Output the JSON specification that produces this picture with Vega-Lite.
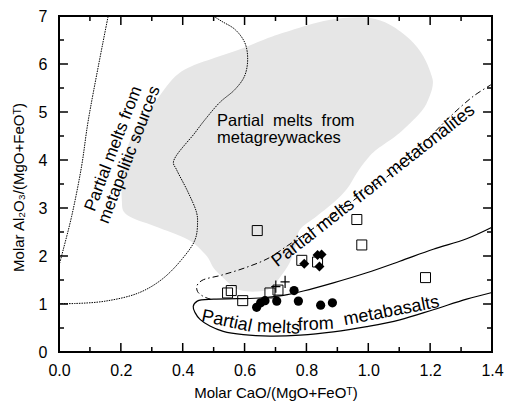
{
  "$schema": "https://vega.github.io/schema/vega-lite/v6.json",
  "width": 433,
  "height": 336,
  "autosize": "none",
  "padding": {"left": 59, "top": 16, "right": 13, "bottom": 49},
  "background": "white",
  "config": {
    "font": "Liberation Sans",
    "view": {"stroke": "black", "strokeWidth": 2},
    "axis": {"grid": false, "domain": false, "ticks": false, "labelColor": "black", "titleColor": "black", "labelFont": "Liberation Sans", "titleFont": "Liberation Sans", "labelFontSize": 16, "titleFontSize": 15, "titleFontWeight": "normal", "labelFlush": false, "labelOverlap": false, "labelBound": false}
  },
  "datasets": {
    "grey": [
      {"i": 1, "x": 0.203, "y": 3.18}, {"i": 2, "x": 0.208, "y": 3.87}, {"i": 3, "x": 0.236, "y": 4.5}, {"i": 4, "x": 0.3, "y": 5.1},
      {"i": 5, "x": 0.364, "y": 5.66}, {"i": 6, "x": 0.418, "y": 5.92}, {"i": 7, "x": 0.504, "y": 6.13}, {"i": 8, "x": 0.59, "y": 6.32},
      {"i": 9, "x": 0.66, "y": 6.5}, {"i": 10, "x": 0.725, "y": 6.65}, {"i": 11, "x": 0.833, "y": 6.86}, {"i": 12, "x": 0.919, "y": 6.96},
      {"i": 13, "x": 1.005, "y": 6.96}, {"i": 14, "x": 1.07, "y": 6.82}, {"i": 15, "x": 1.135, "y": 6.51}, {"i": 16, "x": 1.178, "y": 6.16},
      {"i": 17, "x": 1.205, "y": 5.75}, {"i": 18, "x": 1.208, "y": 5.54}, {"i": 19, "x": 1.194, "y": 5.26}, {"i": 20, "x": 1.17, "y": 5.0},
      {"i": 21, "x": 1.102, "y": 4.57}, {"i": 22, "x": 1.027, "y": 4.22}, {"i": 23, "x": 0.995, "y": 4.01}, {"i": 24, "x": 0.963, "y": 3.73},
      {"i": 25, "x": 0.93, "y": 3.39}, {"i": 26, "x": 0.887, "y": 3.11}, {"i": 27, "x": 0.833, "y": 2.83}, {"i": 28, "x": 0.779, "y": 2.55},
      {"i": 29, "x": 0.765, "y": 2.2}, {"i": 30, "x": 0.745, "y": 1.85}, {"i": 31, "x": 0.714, "y": 1.55}, {"i": 32, "x": 0.685, "y": 1.33},
      {"i": 33, "x": 0.64, "y": 1.26}, {"i": 34, "x": 0.59, "y": 1.28}, {"i": 35, "x": 0.56, "y": 1.38}, {"i": 36, "x": 0.53, "y": 1.55},
      {"i": 37, "x": 0.5, "y": 1.75}, {"i": 38, "x": 0.475, "y": 2.02}, {"i": 39, "x": 0.418, "y": 2.34}, {"i": 40, "x": 0.31, "y": 2.62},
      {"i": 41, "x": 0.219, "y": 2.86}
    ],
    "pelitic": [
      {"i": 1, "x": 0.0, "y": 1.8}, {"i": 2, "x": 0.014, "y": 2.14}, {"i": 3, "x": 0.041, "y": 2.83}, {"i": 4, "x": 0.073, "y": 3.87},
      {"i": 5, "x": 0.095, "y": 4.84}, {"i": 6, "x": 0.159, "y": 7.0}
    ],
    "dotted2": [
      {"i": 1, "x": 0.0, "y": 1.01}, {"i": 2, "x": 0.05, "y": 1.01}, {"i": 3, "x": 0.15, "y": 1.06}, {"i": 4, "x": 0.257, "y": 1.23},
      {"i": 5, "x": 0.332, "y": 1.51}, {"i": 6, "x": 0.397, "y": 1.93}, {"i": 7, "x": 0.44, "y": 2.34}, {"i": 8, "x": 0.448, "y": 2.69},
      {"i": 9, "x": 0.445, "y": 2.9}, {"i": 10, "x": 0.418, "y": 3.32}, {"i": 11, "x": 0.38, "y": 3.8}, {"i": 12, "x": 0.37, "y": 3.96},
      {"i": 13, "x": 0.44, "y": 4.57}, {"i": 14, "x": 0.472, "y": 4.84}, {"i": 15, "x": 0.52, "y": 5.2}, {"i": 16, "x": 0.569, "y": 5.47},
      {"i": 17, "x": 0.6, "y": 5.75}, {"i": 18, "x": 0.61, "y": 6.1}, {"i": 19, "x": 0.601, "y": 6.44}, {"i": 20, "x": 0.569, "y": 6.72},
      {"i": 21, "x": 0.526, "y": 6.89}, {"i": 22, "x": 0.499, "y": 7.0}
    ],
    "tonalite": [
      {"i": 1, "x": 1.4, "y": 5.58}, {"i": 2, "x": 1.34, "y": 5.33}, {"i": 3, "x": 1.264, "y": 4.9}, {"i": 4, "x": 1.21, "y": 4.55},
      {"i": 5, "x": 1.157, "y": 4.17}, {"i": 6, "x": 1.1, "y": 3.86}, {"i": 7, "x": 1.05, "y": 3.6}, {"i": 8, "x": 0.995, "y": 3.37},
      {"i": 9, "x": 0.94, "y": 3.1}, {"i": 10, "x": 0.887, "y": 2.88}, {"i": 11, "x": 0.81, "y": 2.52}, {"i": 12, "x": 0.74, "y": 2.22},
      {"i": 13, "x": 0.676, "y": 1.95}, {"i": 14, "x": 0.6, "y": 1.75}, {"i": 15, "x": 0.525, "y": 1.6}, {"i": 16, "x": 0.462, "y": 1.49},
      {"i": 17, "x": 0.446, "y": 1.38}, {"i": 18, "x": 0.448, "y": 1.26}, {"i": 19, "x": 0.466, "y": 1.16}, {"i": 20, "x": 0.49, "y": 1.1}
    ],
    "basalt": [
      {"i": 1, "x": 1.4, "y": 2.6}, {"i": 2, "x": 1.318, "y": 2.36}, {"i": 3, "x": 1.21, "y": 2.14}, {"i": 4, "x": 1.102, "y": 1.89},
      {"i": 5, "x": 0.995, "y": 1.65}, {"i": 6, "x": 0.887, "y": 1.44}, {"i": 7, "x": 0.79, "y": 1.27}, {"i": 8, "x": 0.726, "y": 1.18},
      {"i": 9, "x": 0.66, "y": 1.13}, {"i": 10, "x": 0.575, "y": 1.11}, {"i": 11, "x": 0.5, "y": 1.1}, {"i": 12, "x": 0.447, "y": 1.06},
      {"i": 13, "x": 0.434, "y": 0.95}, {"i": 14, "x": 0.44, "y": 0.82}, {"i": 15, "x": 0.456, "y": 0.68}, {"i": 16, "x": 0.488, "y": 0.54},
      {"i": 17, "x": 0.531, "y": 0.43}, {"i": 18, "x": 0.596, "y": 0.36}, {"i": 19, "x": 0.682, "y": 0.33}, {"i": 20, "x": 0.78, "y": 0.35},
      {"i": 21, "x": 0.887, "y": 0.42}, {"i": 22, "x": 0.995, "y": 0.53}, {"i": 23, "x": 1.102, "y": 0.67}, {"i": 24, "x": 1.21, "y": 0.88},
      {"i": 25, "x": 1.318, "y": 1.1}, {"i": 26, "x": 1.4, "y": 1.24}
    ],
    "squares": [
      {"x": 0.641, "y": 2.53}, {"x": 0.963, "y": 2.76}, {"x": 0.979, "y": 2.23}, {"x": 1.185, "y": 1.55}, {"x": 0.785, "y": 1.91},
      {"x": 0.836, "y": 1.875}, {"x": 0.545, "y": 1.23}, {"x": 0.557, "y": 1.28}, {"x": 0.594, "y": 1.07}, {"x": 0.682, "y": 1.23}, {"x": 0.708, "y": 1.29}
    ],
    "circles": [
      {"x": 0.639, "y": 0.93}, {"x": 0.652, "y": 1.025}, {"x": 0.666, "y": 1.07}, {"x": 0.704, "y": 1.06}, {"x": 0.76, "y": 1.28},
      {"x": 0.774, "y": 1.06}, {"x": 0.846, "y": 0.975}, {"x": 0.884, "y": 1.025}
    ],
    "diamonds": [
      {"x": 0.793, "y": 1.84}, {"x": 0.836, "y": 2.02}, {"x": 0.849, "y": 2.03}, {"x": 0.842, "y": 1.78}
    ],
    "crosses": [
      {"x": 0.701, "y": 1.36}, {"x": 0.731, "y": 1.46}
    ],
    "xmajorB": [{"v": 0.2}, {"v": 0.4}, {"v": 0.6}, {"v": 0.8}, {"v": 1.0}, {"v": 1.2}],
    "xmajorT": [{"t": 0.2}, {"t": 0.4}, {"t": 0.6}, {"t": 0.8}, {"t": 1.0}, {"t": 1.2}],
    "xminorB": [{"m": 0.1}, {"m": 0.3}, {"m": 0.5}, {"m": 0.7}, {"m": 0.9}, {"m": 1.1}, {"m": 1.3}],
    "xminorT": [{"n": 0.1}, {"n": 0.3}, {"n": 0.5}, {"n": 0.7}, {"n": 0.9}, {"n": 1.1}, {"n": 1.3}],
    "ymajorL": [{"a": 1}, {"a": 2}, {"a": 3}, {"a": 4}, {"a": 5}, {"a": 6}],
    "ymajorR": [{"b": 1}, {"b": 2}, {"b": 3}, {"b": 4}, {"b": 5}, {"b": 6}],
    "yminorL": [{"c": 0.5}, {"c": 1.5}, {"c": 2.5}, {"c": 3.5}, {"c": 4.5}, {"c": 5.5}, {"c": 6.5}],
    "yminorR": [{"d": 0.5}, {"d": 1.5}, {"d": 2.5}, {"d": 3.5}, {"d": 4.5}, {"d": 5.5}, {"d": 6.5}]
  },
  "layer": [
    {
      "data": {"name": "grey"},
      "mark": {"type": "line", "fill": "#e6e6e6", "stroke": "transparent", "interpolate": "cardinal-closed"},
      "encoding": {
        "order": {"field": "i", "type": "quantitative"},
        "x": {"field": "x", "type": "quantitative", "scale": {"domain": [0, 1.4], "nice": false, "zero": false},
          "axis": {"orient": "bottom", "values": [0, 0.2, 0.4, 0.6, 0.8, 1.0, 1.2, 1.4], "format": ".1f", "labelPadding": 10,
            "title": "Molar CaO/(MgO+FeOᵀ)", "titleY": 40, "titleBaseline": "middle"}},
        "y": {"field": "y", "type": "quantitative", "scale": {"domain": [0, 7], "nice": false, "zero": false},
          "axis": {"orient": "left", "values": [0, 1, 2, 3, 4, 5, 6, 7], "format": "d", "labelPadding": 12,
            "title": "Molar Al₂O₃/(MgO+FeOᵀ)", "titleX": -41, "titleY": 171, "titleBaseline": "middle", "titleAngle": -90}}
      }
    },
    {
      "data": {"name": "xmajorB"},
      "mark": {"type": "rule", "color": "black", "strokeWidth": 1.5},
      "encoding": {"x": {"field": "v", "type": "quantitative"}, "y": {"datum": 0}, "y2": {"datum": 0.1875}}
    },
    {
      "data": {"name": "xmajorT"},
      "mark": {"type": "rule", "color": "black", "strokeWidth": 1.5},
      "encoding": {"x": {"field": "t", "type": "quantitative"}, "y": {"datum": 7}, "y2": {"datum": 6.8125}}
    },
    {
      "data": {"name": "xminorB"},
      "mark": {"type": "rule", "color": "black", "strokeWidth": 1.5},
      "encoding": {"x": {"field": "m", "type": "quantitative"}, "y": {"datum": 0}, "y2": {"datum": 0.104}}
    },
    {
      "data": {"name": "xminorT"},
      "mark": {"type": "rule", "color": "black", "strokeWidth": 1.5},
      "encoding": {"x": {"field": "n", "type": "quantitative"}, "y": {"datum": 7}, "y2": {"datum": 6.896}}
    },
    {
      "data": {"name": "ymajorL"},
      "mark": {"type": "rule", "color": "black", "strokeWidth": 1.5},
      "encoding": {"y": {"field": "a", "type": "quantitative"}, "x": {"datum": 0}, "x2": {"datum": 0.029}}
    },
    {
      "data": {"name": "ymajorR"},
      "mark": {"type": "rule", "color": "black", "strokeWidth": 1.5},
      "encoding": {"y": {"field": "b", "type": "quantitative"}, "x": {"datum": 1.4}, "x2": {"datum": 1.371}}
    },
    {
      "data": {"name": "yminorL"},
      "mark": {"type": "rule", "color": "black", "strokeWidth": 1.5},
      "encoding": {"y": {"field": "c", "type": "quantitative"}, "x": {"datum": 0}, "x2": {"datum": 0.0162}}
    },
    {
      "data": {"name": "yminorR"},
      "mark": {"type": "rule", "color": "black", "strokeWidth": 1.5},
      "encoding": {"y": {"field": "d", "type": "quantitative"}, "x": {"datum": 1.4}, "x2": {"datum": 1.3838}}
    },
    {
      "data": {"name": "pelitic"},
      "mark": {"type": "line", "stroke": "black", "strokeWidth": 1, "strokeDash": [1.5, 1], "interpolate": "catmull-rom"},
      "encoding": {
        "order": {"field": "i", "type": "quantitative"},
        "x": {"field": "x", "type": "quantitative"},
        "y": {"field": "y", "type": "quantitative"}
      }
    },
    {
      "data": {"name": "dotted2"},
      "mark": {"type": "line", "stroke": "black", "strokeWidth": 1, "strokeDash": [1.5, 1], "interpolate": "catmull-rom"},
      "encoding": {
        "order": {"field": "i", "type": "quantitative"},
        "x": {"field": "x", "type": "quantitative"},
        "y": {"field": "y", "type": "quantitative"}
      }
    },
    {
      "data": {"name": "tonalite"},
      "mark": {"type": "line", "stroke": "black", "strokeWidth": 1, "strokeDash": [6, 3, 1.5, 3], "interpolate": "catmull-rom"},
      "encoding": {
        "order": {"field": "i", "type": "quantitative"},
        "x": {"field": "x", "type": "quantitative"},
        "y": {"field": "y", "type": "quantitative"}
      }
    },
    {
      "data": {"name": "basalt"},
      "mark": {"type": "line", "stroke": "black", "strokeWidth": 1.2, "interpolate": "catmull-rom"},
      "encoding": {
        "order": {"field": "i", "type": "quantitative"},
        "x": {"field": "x", "type": "quantitative"},
        "y": {"field": "y", "type": "quantitative"}
      }
    },
    {
      "data": {"name": "squares"},
      "mark": {"type": "point", "shape": "square", "size": 100, "stroke": "black", "strokeWidth": 1, "fill": "transparent", "opacity": 1},
      "encoding": {
        "x": {"field": "x", "type": "quantitative"},
        "y": {"field": "y", "type": "quantitative"}
      }
    },
    {
      "data": {"name": "circles"},
      "mark": {"type": "point", "shape": "circle", "size": 85, "fill": "black", "stroke": null, "filled": true, "opacity": 1},
      "encoding": {
        "x": {"field": "x", "type": "quantitative"},
        "y": {"field": "y", "type": "quantitative"}
      }
    },
    {
      "data": {"name": "diamonds"},
      "mark": {"type": "point", "shape": "diamond", "size": 100, "fill": "black", "stroke": null, "filled": true, "opacity": 1},
      "encoding": {
        "x": {"field": "x", "type": "quantitative"},
        "y": {"field": "y", "type": "quantitative"}
      }
    },
    {
      "data": {"name": "crosses"},
      "mark": {"type": "point", "shape": "M-0.75,0H0.75M0,-1V1", "size": 150, "stroke": "black", "strokeWidth": 1.2, "fill": "transparent", "opacity": 1},
      "encoding": {
        "x": {"field": "x", "type": "quantitative"},
        "y": {"field": "y", "type": "quantitative"}
      }
    },
    {
      "data": {"values": [{"x": 0.511, "y": 4.82, "label": "Partial\u00a0 melts\u00a0 from\nmetagreywackes"}]},
      "mark": {"type": "text", "align": "left", "baseline": "middle", "fontSize": 16.5, "lineHeight": 17, "lineBreak": "\n", "color": "black"},
      "encoding": {
        "x": {"field": "x", "type": "quantitative"},
        "y": {"field": "y", "type": "quantitative"},
        "text": {"field": "label"}
      }
    },
    {
      "data": {"values": [{"x": 0.176, "y": 4.235, "label": "Partial melts from\nmetapelitic sources"}]},
      "mark": {"type": "text", "align": "center", "baseline": "middle", "fontSize": 17, "lineHeight": 17, "lineBreak": "\n", "angle": -69, "color": "black"},
      "encoding": {
        "x": {"field": "x", "type": "quantitative"},
        "y": {"field": "y", "type": "quantitative"},
        "text": {"field": "label"}
      }
    },
    {
      "data": {"values": [{"x": 1.017, "y": 3.46, "label": "Partial melts from metatonalites"}]},
      "mark": {"type": "text", "align": "center", "baseline": "middle", "fontSize": 18, "angle": -38, "color": "black"},
      "encoding": {
        "x": {"field": "x", "type": "quantitative"},
        "y": {"field": "y", "type": "quantitative"},
        "text": {"field": "label"}
      }
    },
    {
      "data": {"values": [{"x": 0.542, "y": 0.635, "label": "Partial"}]},
      "mark": {"type": "text", "align": "center", "baseline": "middle", "fontSize": 18, "angle": 12, "color": "black"},
      "encoding": {
        "x": {"field": "x", "type": "quantitative"},
        "y": {"field": "y", "type": "quantitative"},
        "text": {"field": "label"}
      }
    },
    {
      "data": {"values": [{"x": 0.71, "y": 0.51, "label": "melts"}]},
      "mark": {"type": "text", "align": "center", "baseline": "middle", "fontSize": 18, "angle": 3, "color": "black"},
      "encoding": {
        "x": {"field": "x", "type": "quantitative"},
        "y": {"field": "y", "type": "quantitative"},
        "text": {"field": "label"}
      }
    },
    {
      "data": {"values": [{"x": 0.83, "y": 0.57, "label": "from"}]},
      "mark": {"type": "text", "align": "center", "baseline": "middle", "fontSize": 18, "angle": -3, "color": "black"},
      "encoding": {
        "x": {"field": "x", "type": "quantitative"},
        "y": {"field": "y", "type": "quantitative"},
        "text": {"field": "label"}
      }
    },
    {
      "data": {"values": [{"x": 1.075, "y": 0.85, "label": "metabasalts"}]},
      "mark": {"type": "text", "align": "center", "baseline": "middle", "fontSize": 18, "angle": -11, "color": "black"},
      "encoding": {
        "x": {"field": "x", "type": "quantitative"},
        "y": {"field": "y", "type": "quantitative"},
        "text": {"field": "label"}
      }
    }
  ]
}
